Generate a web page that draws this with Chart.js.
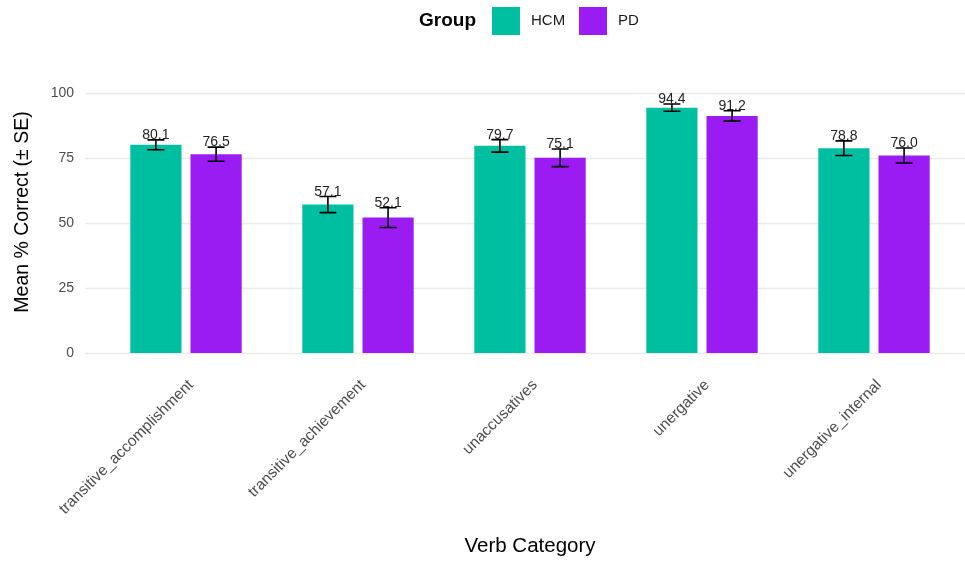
<!DOCTYPE html>
<html>
<head>
<meta charset="utf-8">
<script src="https://cdn.jsdelivr.net/npm/chart.js@4.4.1/dist/chart.umd.min.js"></script>
<style>
  html, body { margin: 0; padding: 0; background: #fff; }
</style>
</head>
<body>
<canvas id="chart" width="965" height="561"></canvas>
<script>
// data
const categories = ['transitive_accomplishment', 'transitive_achievement', 'unaccusatives', 'unergative', 'unergative_internal']
const groups = ['HCM', 'PD']
const hcmMeans = [80.1, 57.1, 79.7, 94.4, 78.8]
const pdMeans = [76.5, 52.1, 75.1, 91.2, 76.0]
const hcmSE = [1.9, 3.1, 2.4, 1.4, 2.8]
const pdSE = [2.7, 3.8, 3.4, 2.0, 2.9]
const yTicks = [0, 25, 50, 75, 100]

const colors = ['#00BFA0', '#9B1CF2']
const seList = [hcmSE, pdSE]
const FONT = '"Liberation Sans", Arial, Helvetica, sans-serif'

// horizontal grid lines across the whole panel
const gridPlugin = {
  id: 'grid',
  beforeDatasetsDraw(chart) {
    const ctx = chart.ctx
    const y = chart.scales.y
    ctx.save()
    ctx.strokeStyle = '#ebebeb'
    ctx.lineWidth = 1.3
    for (const v of yTicks) {
      const py = Math.round(y.getPixelForValue(v)) + 0.5
      ctx.beginPath()
      ctx.moveTo(85, py)
      ctx.lineTo(chart.width, py)
      ctx.stroke()
    }
    ctx.restore()
  }
}

// error bars and value labels
const errorPlugin = {
  id: 'errors',
  afterDatasetsDraw(chart) {
    const ctx = chart.ctx
    const y = chart.scales.y
    ctx.save()
    chart.data.datasets.forEach((ds, i) => {
      const meta = chart.getDatasetMeta(i)
      meta.data.forEach((bar, j) => {
        const m = ds.data[j]
        const se = seList[i][j]
        const top = y.getPixelForValue(m + se)
        const bot = y.getPixelForValue(m - se)
        ctx.strokeStyle = '#000'
        ctx.lineWidth = 1.6
        ctx.beginPath()
        ctx.moveTo(bar.x, top); ctx.lineTo(bar.x, bot)
        ctx.moveTo(bar.x - 8.5, top); ctx.lineTo(bar.x + 8.5, top)
        ctx.moveTo(bar.x - 8.5, bot); ctx.lineTo(bar.x + 8.5, bot)
        ctx.stroke()
        ctx.fillStyle = '#222'
        ctx.font = '14px ' + FONT
        ctx.textAlign = 'center'
        ctx.textBaseline = 'alphabetic'
        ctx.fillText(m.toFixed(1), bar.x, top - 1)
      })
    })
    ctx.restore()
  }
}

// legend in the ggplot style: bold title then keys on one row
const legendPlugin = {
  id: 'ggLegend',
  afterDraw(chart) {
    const ctx = chart.ctx
    ctx.save()
    ctx.textBaseline = 'middle'
    ctx.textAlign = 'left'
    ctx.fillStyle = '#000'
    ctx.font = 'bold 19px ' + FONT
    ctx.fillText('Group', 419, 21)
    const boxX = [492, 579]
    const textX = [531, 618]
    groups.forEach((g, i) => {
      ctx.fillStyle = colors[i]
      ctx.fillRect(boxX[i], 7, 28, 28)
      ctx.fillStyle = '#1a1a1a'
      ctx.font = '15px ' + FONT
      ctx.fillText(g, textX[i], 21)
    })
    ctx.restore()
  }
}

const ctx = document.getElementById('chart').getContext('2d')
const myChart = new Chart(ctx, {
  type: 'bar',
  data: {
    labels: categories,
    datasets: [
      { label: groups[0], data: hcmMeans, backgroundColor: colors[0] },
      { label: groups[1], data: pdMeans, backgroundColor: colors[1] }
    ]
  },
  options: {
    responsive: false,
    animation: false,
    devicePixelRatio: 1,
    categoryPercentage: 0.7,
    barPercentage: 0.85,
    layout: { padding: { top: 71, right: 5, left: 0, bottom: 0 } },
    plugins: {
      legend: { display: false },
      tooltip: { enabled: false }
    },
    scales: {
      x: {
        grid: { display: false, drawTicks: false },
        border: { display: false },
        ticks: {
          color: '#4d4d4d',
          font: { family: FONT, size: 15.5 },
          minRotation: 45,
          maxRotation: 45,
          labelOffset: 5,
          padding: 23,
          autoSkip: false
        },
        title: {
          display: true,
          text: 'Verb Category',
          color: '#000',
          font: { family: FONT, size: 20.5 },
          padding: { top: 0, bottom: 2 }
        },
        afterFit(scale) { scale.height = 208 }
      },
      y: {
        min: 0,
        max: 108.5,
        grid: { display: false, drawTicks: false },
        border: { display: false },
        afterBuildTicks(scale) { scale.ticks = yTicks.map(v => ({ value: v })) },
        ticks: {
          color: '#4d4d4d',
          font: { family: FONT, size: 14 },
          padding: 26
        },
        title: {
          display: true,
          text: 'Mean % Correct (± SE)',
          color: '#000',
          font: { family: FONT, size: 19.5 },
          padding: { top: 11, bottom: 0 }
        },
        afterFit(scale) { scale.width = 100 }
      }
    }
  },
  plugins: [gridPlugin, errorPlugin, legendPlugin]
})
</script>
</body>
</html>
